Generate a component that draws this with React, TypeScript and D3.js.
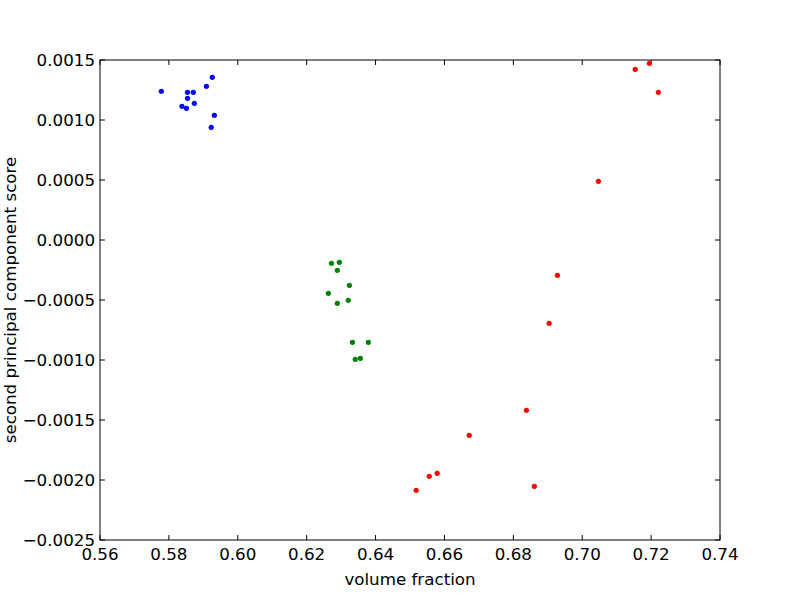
import { useEffect, useRef } from "react";
import * as d3 from "d3";

// cluster 1 (blue)
const blueX = [0.5778, 0.5926, 0.5909, 0.5854, 0.5871, 0.5854, 0.5874, 0.5838, 0.5851, 0.5932, 0.5923];
const blueY = [0.001239, 0.001356, 0.001281, 0.001231, 0.001231, 0.001181, 0.001139, 0.001114, 0.001097, 0.001039, 0.000939];

// cluster 2 (green)
const greenX = [0.6272, 0.6295, 0.6289, 0.6324, 0.6263, 0.6321, 0.6289, 0.6333, 0.6379, 0.6341, 0.6356];
const greenY = [-0.000194, -0.000186, -0.000253, -0.000378, -0.000444, -0.000503, -0.000528, -0.000853, -0.000853, -0.000994, -0.000986];

// cluster 3 (red)
const redX = [0.6838, 0.6672, 0.6579, 0.6556, 0.6518, 0.6861, 0.7195, 0.7154, 0.7221, 0.7047, 0.6928, 0.6904];
const redY = [-0.001419, -0.001628, -0.001944, -0.001969, -0.002086, -0.002053, 0.001472, 0.001422, 0.001231, 0.000489, -0.000294, -0.000694];

const xTicks = [0.56, 0.58, 0.6, 0.62, 0.64, 0.66, 0.68, 0.7, 0.72, 0.74];
const yTicks = [-0.0025, -0.002, -0.0015, -0.001, -0.0005, 0, 0.0005, 0.001, 0.0015];

const App = () => {
    const container = useRef<SVGSVGElement>(null);

    useEffect(() => {
        const svg = d3.select(container.current);
        svg.selectAll("*").remove();

        const margin = { top: 60, right: 80, bottom: 60, left: 100 },
            width = 800 - margin.left - margin.right,
            height = 600 - margin.top - margin.bottom;

        const g = svg.append("g")
            .attr("transform", `translate(${margin.left},${margin.top})`);

        const x = d3.scaleLinear().domain([0.56, 0.74]).range([0, width]);
        const y = d3.scaleLinear().domain([-0.0025, 0.0015]).range([height, 0]);

        const font = "DejaVu Sans, sans-serif";
        const fontSize = "16.7px";
        const tickLen = 5;
        const fmtX = d3.format(".2f");
        const fmtY = (d: number) => d3.format(".4f")(d).replace("-", "\u2212");

        // ticks (inside, on all four sides)
        xTicks.forEach((t) => {
            g.append("line").attr("x1", x(t)).attr("x2", x(t))
                .attr("y1", height).attr("y2", height - tickLen).attr("stroke", "#000");
            g.append("line").attr("x1", x(t)).attr("x2", x(t))
                .attr("y1", 0).attr("y2", tickLen).attr("stroke", "#000");
            g.append("text").attr("x", x(t)).attr("y", height + 20)
                .attr("text-anchor", "middle")
                .style("font-family", font).style("font-size", fontSize)
                .text(fmtX(t));
        });
        yTicks.forEach((t) => {
            g.append("line").attr("x1", 0).attr("x2", tickLen)
                .attr("y1", y(t)).attr("y2", y(t)).attr("stroke", "#000");
            g.append("line").attr("x1", width).attr("x2", width - tickLen)
                .attr("y1", y(t)).attr("y2", y(t)).attr("stroke", "#000");
            g.append("text").attr("x", -5).attr("y", y(t))
                .attr("text-anchor", "end").attr("dominant-baseline", "central")
                .style("font-family", font).style("font-size", fontSize)
                .text(fmtY(t));
        });

        const drawSet = (xs: number[], ys: number[], color: string) => {
            g.selectAll(null)
                .data(xs.map((d, i) => [d, ys[i]]))
                .join("circle")
                .attr("cx", (d) => x(d[0]))
                .attr("cy", (d) => y(d[1]))
                .attr("r", 2.6)
                .style("fill", color);
        };
        drawSet(blueX, blueY, "#0000ff");
        drawSet(greenX, greenY, "#008000");
        drawSet(redX, redY, "#ff0000");

        g.append("rect").attr("width", width).attr("height", height)
            .attr("fill", "none").attr("stroke", "#000").attr("stroke-width", 1);

        g.append("text").attr("x", width / 2).attr("y", height + 45)
            .attr("text-anchor", "middle")
            .style("font-family", font).style("font-size", fontSize)
            .text("volume fraction");
        g.append("text")
            .attr("transform", `translate(${-84},${height / 2}) rotate(-90)`)
            .attr("text-anchor", "middle")
            .style("font-family", font).style("font-size", fontSize)
            .text("second principal component score");
    }, []);

    return (
        <svg ref={container} width={800} height={600}
            style={{ position: "absolute", left: 0, top: 0, background: "#fff" }} />
    );
};

export default App;
